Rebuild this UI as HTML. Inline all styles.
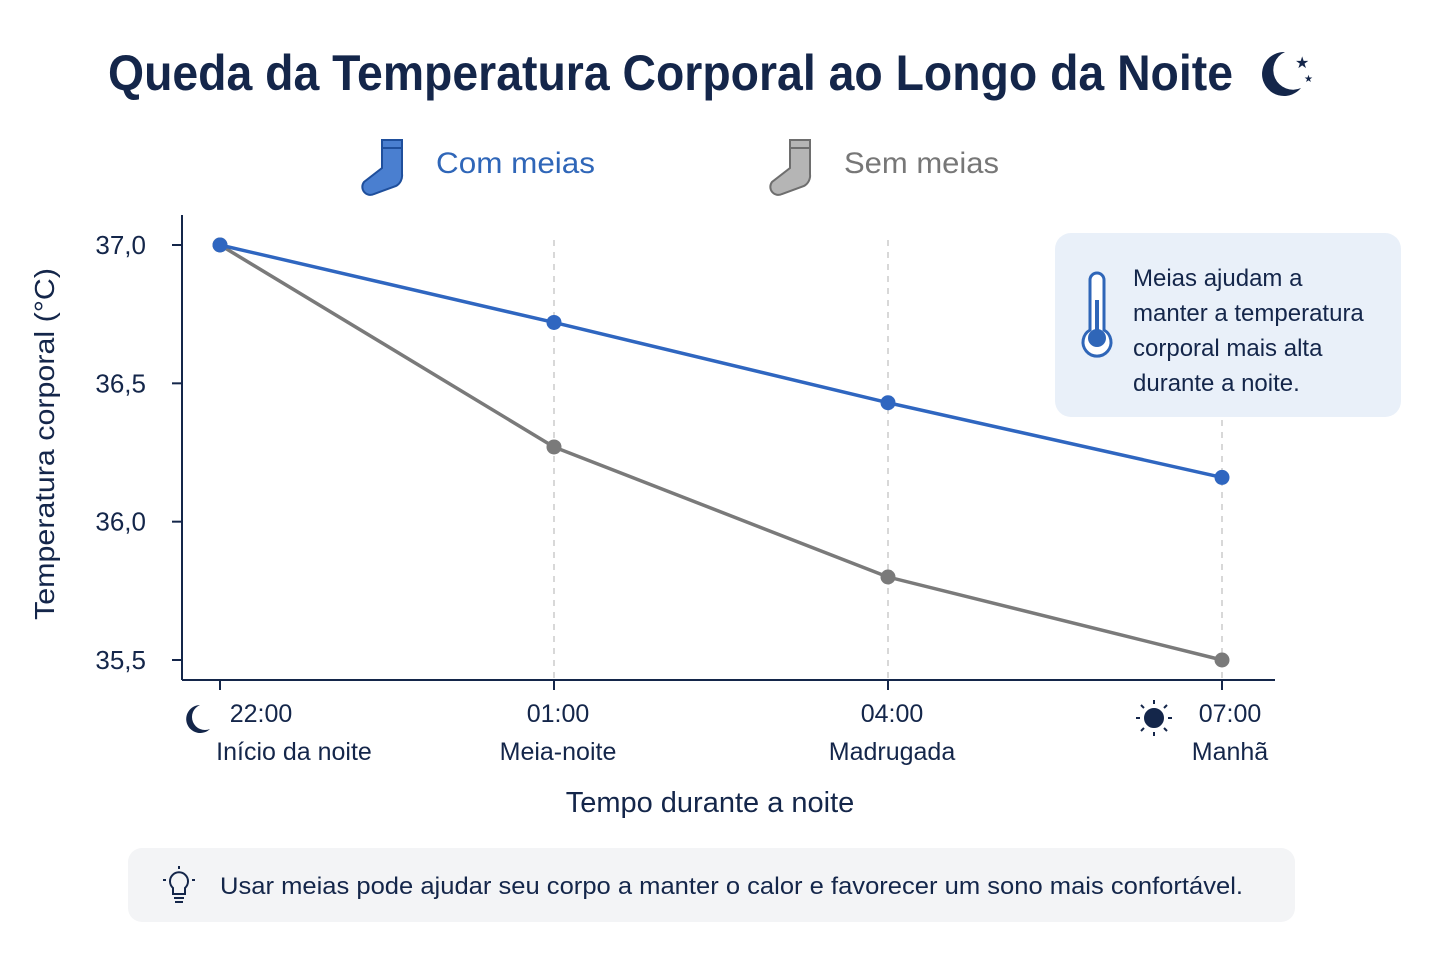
<!DOCTYPE html>
<html><head><meta charset="utf-8"><style>
html,body{margin:0;padding:0;background:#fff;}
svg{display:block;font-family:"Liberation Sans",sans-serif;}
</style></head><body>
<svg id="chart" width="1440" height="960" viewBox="0 0 1440 960">
<text x="108" y="90" font-size="50" font-weight="bold" fill="#14264a" textLength="1125" lengthAdjust="spacingAndGlyphs">Queda da Temperatura Corporal ao Longo da Noite</text>
<g>
<path d="M1285,52 a22,22 0 1,0 16,36 a18,18 0 1,1 -16,-36z" fill="#14264a"/>
<text x="1295" y="68" font-size="16" fill="#14264a">★</text>
<text x="1304" y="82" font-size="10" fill="#14264a">★</text>
</g>
<g>
<path d="M382,140 h20 v8 h0 v26 a12,12 0 0,1 -6,12 l-22,8 a8,8 0 0,1 -10,-12 l18,-14 z" fill="#4a7fd0" stroke="#1f4f9c" stroke-width="2"/>
<rect x="382" y="140" width="20" height="8" fill="#4a7fd0" stroke="#1f4f9c" stroke-width="2"/>
<text x="436" y="173" font-size="30" fill="#2f66b8" textLength="159" lengthAdjust="spacingAndGlyphs">Com meias</text>
</g>
<g>
<path d="M790,140 h20 v8 h0 v26 a12,12 0 0,1 -6,12 l-22,8 a8,8 0 0,1 -10,-12 l18,-14 z" fill="#b5b5b5" stroke="#6e6e6e" stroke-width="2"/>
<rect x="790" y="140" width="20" height="8" fill="#b5b5b5" stroke="#6e6e6e" stroke-width="2"/>
<text x="844" y="173" font-size="30" fill="#777" textLength="155" lengthAdjust="spacingAndGlyphs">Sem meias</text>
</g>
<g id="grid"></g>
<line x1="182" y1="215" x2="182" y2="680" stroke="#14264a" stroke-width="2"/>
<line x1="182" y1="680" x2="1275" y2="680" stroke="#14264a" stroke-width="2"/>
<g id="yticks"></g>
<g id="xticks"></g>
<text transform="translate(54,444) rotate(-90)" text-anchor="middle" font-size="28" fill="#14264a" textLength="352" lengthAdjust="spacingAndGlyphs">Temperatura corporal (°C)</text>
<text x="710" y="812" text-anchor="middle" font-size="29" fill="#14264a">Tempo durante a noite</text>
<path d="M200,705 a14,14 0 1,0 10,24 a12,12 0 1,1 -10,-24z" fill="#14264a"/>
<g stroke="#14264a" stroke-width="2">
<circle cx="1154" cy="718" r="9" fill="#14264a"/>
<line x1="1154" y1="700" x2="1154" y2="704"/><line x1="1154" y1="732" x2="1154" y2="736"/>
<line x1="1136" y1="718" x2="1140" y2="718"/><line x1="1168" y1="718" x2="1172" y2="718"/>
<line x1="1141" y1="705" x2="1144" y2="708"/><line x1="1164" y1="728" x2="1167" y2="731"/>
<line x1="1167" y1="705" x2="1164" y2="708"/><line x1="1141" y1="731" x2="1144" y2="728"/>
</g>
<g id="series"></g>
<g>
<rect x="1055" y="233" width="346" height="184" rx="16" fill="#e9f0f9"/>
<g stroke="#2f66b8" stroke-width="3" fill="none">
<path d="M1090,330 v-50 a7,7 0 0,1 14,0 v50 a14,14 0 1,1 -14,0z" fill="#fff"/>
</g>
<circle cx="1097" cy="338" r="9" fill="#2f66b8"/>
<rect x="1095" y="300" width="4" height="38" fill="#2f66b8"/>
<text font-size="24" fill="#14264a"><tspan x="1133" y="286">Meias ajudam a</tspan><tspan x="1133" y="321">manter a temperatura</tspan><tspan x="1133" y="356">corporal mais alta</tspan><tspan x="1133" y="391">durante a noite.</tspan></text>
</g>
<g>
<rect x="128" y="848" width="1167" height="74" rx="14" fill="#f3f4f6"/>
<g stroke="#14264a" stroke-width="2" fill="none">
<path d="M173,888 a9,9 0 1,1 12,0 v6 h-12z"/><line x1="174" y1="898" x2="184" y2="898"/><line x1="175" y1="902" x2="183" y2="902"/>
<line x1="179" y1="866" x2="179" y2="869"/><line x1="163" y1="880" x2="166" y2="880"/><line x1="192" y1="880" x2="195" y2="880"/>
</g>
<text x="220" y="894" font-size="24" fill="#14264a" textLength="1023" lengthAdjust="spacingAndGlyphs">Usar meias pode ajudar seu corpo a manter o calor e favorecer um sono mais confortável.</text>
</g>
</svg>
<script>
const hours = ["22:00","01:00","04:00","07:00"];
const periods = ["Início da noite","Meia-noite","Madrugada","Manhã"];
const comMeias = [37.0, 36.72, 36.43, 36.16];
const semMeias = [37.0, 36.27, 35.80, 35.50];
const yTicks = [37.0, 36.5, 36.0, 35.5];
const yTickLabels = ["37,0","36,5","36,0","35,5"];
const NS="http://www.w3.org/2000/svg";
function xS(i){return 220 + i*(1222-220)/(hours.length-1);}
function yS(v){return 245 + (37.0-v)*(660-245)/1.5;}
function mk(tag,attrs,parent){const e=document.createElementNS(NS,tag);for(const k in attrs)e.setAttribute(k,attrs[k]);parent.appendChild(e);return e;}
const grid=document.getElementById('grid'),yt=document.getElementById('yticks'),xt=document.getElementById('xticks'),ser=document.getElementById('series');
yTicks.forEach((v,i)=>{
  const l=mk('line',{x1:172,x2:182,y1:yS(v),y2:yS(v),stroke:'#14264a','stroke-width':2},yt);
  
  
  const t=mk('text',{x:146,y:yS(v)+9,'text-anchor':'end','font-size':26,fill:'#14264a'},yt);
  t.textContent=yTickLabels[i];
  
  
});
hours.forEach((h,i)=>{
  const x=xS(i);
  if(i>0){
    const g=mk('line',{x1:x,x2:x,y1:240,y2:680,stroke:'#ccc','stroke-width':1.5,'stroke-dasharray':'6,6'},grid);
    
    
  }
  const tk=mk('line',{x1:x,x2:x,y1:680,y2:690,stroke:'#14264a','stroke-width':2},xt);
  
  
  const cx = i==0? 294 : (i==hours.length-1? 1230 : x+4);
  const t1=mk('text',{x:i==0?261:cx,y:722,'text-anchor':'middle','font-size':25,fill:'#14264a'},xt);
  t1.textContent=h;
  
  
  const t2=mk('text',{x:cx,y:760,'text-anchor':'middle','font-size':25,fill:'#14264a'},xt);
  t2.textContent=periods[i];
  
  
});
function drawSeries(vals,color,name){
  const p=mk('polyline',{points:vals.map((v,i)=>xS(i)+','+yS(v)).join(' '),fill:'none',stroke:color,'stroke-width':3.5,'stroke-linejoin':'round'},ser);
  
  
  vals.forEach((v,i)=>{
    const c=mk('circle',{cx:xS(i),cy:yS(v),r:7.5,fill:color},ser);
    
    
  });
}
drawSeries(semMeias,'#7a7a7a','sem-meias');
drawSeries(comMeias,'#2f66c0','com-meias');
</script>
</body></html>
